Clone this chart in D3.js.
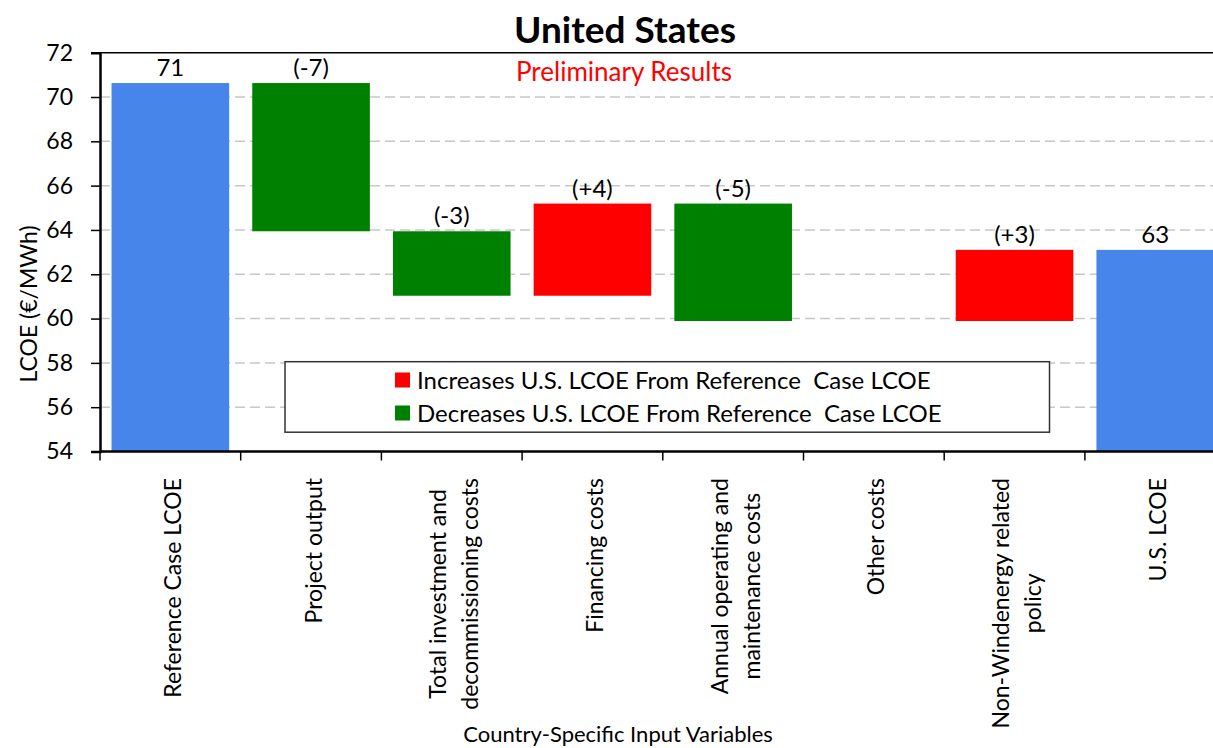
<!DOCTYPE html>
<html>
<head>
<meta charset="utf-8">
<script src="https://cdn.jsdelivr.net/npm/d3@7"></script>
<style>
  body { margin: 0; background: #fff; }
  svg { display: block; font-family: Lato, "Open Sans", sans-serif; }
</style>
</head>
<body>
<svg id="chart" width="1213" height="748"></svg>
<script>
// Waterfall steps from the reference-case LCOE to the U.S. LCOE
const categories = [
  "Reference Case LCOE",
  "Project output",
  "Total investment and\ndecommissioning costs",
  "Financing costs",
  "Annual operating and\nmaintenance costs",
  "Other costs",
  "Non-Windenergy related\npolicy",
  "U.S. LCOE"
];
const stepKinds = ["total", "delta", "delta", "delta", "delta", "delta", "delta", "total"];
const stepValues = [70.63, -6.69, -2.91, 4.16, -5.30, 0, 3.21, 63.10];
const yTicks = [54, 56, 58, 60, 62, 64, 66, 68, 70, 72];
const legendLabels = [
  "Increases U.S. LCOE From Reference  Case LCOE",
  "Decreases U.S. LCOE From Reference  Case LCOE"
];

const colors = { total: "#4785EA", up: "#FF0000", down: "#008000" };

const svg = d3.select("#chart");
const plotLeft = 100, plotTop = 52.7, plotBottom = 451.5;
const step = 140.7;

const x = d3.scaleBand()
  .domain(categories)
  .range([plotLeft, plotLeft + step * categories.length])
  .paddingInner(0.164)
  .paddingOuter(0.082);

const y = d3.scaleLinear().domain([54, 72]).range([plotBottom, plotTop]);

// Build waterfall segments
let running = 0;
const segments = categories.map((c, i) => {
  const v = stepValues[i];
  let lo, hi, color, label;
  if (stepKinds[i] === "total") {
    lo = y.domain()[0]; hi = v; running = v; color = colors.total;
    label = d3.format(".0f")(v);
  } else {
    const start = running; running = start + v;
    lo = Math.min(start, running); hi = Math.max(start, running);
    color = v >= 0 ? colors.up : colors.down;
    label = v === 0 ? "" : "(" + (v > 0 ? "+" : "-") + d3.format(".0f")(Math.abs(v)) + ")";
  }
  return { c, lo, hi, color, label };
});

// Dashed gridlines
svg.append("g")
  .selectAll("line")
  .data(yTicks.filter(t => t > 54 && t < 72))
  .join("line")
  .attr("x1", plotLeft).attr("x2", 1213)
  .attr("y1", d => y(d)).attr("y2", d => y(d))
  .attr("stroke", "#c8c8c8").attr("stroke-width", 1.5)
  .attr("stroke-dasharray", "10,5");

// Top border of plot area
svg.append("line")
  .attr("x1", plotLeft).attr("x2", 1213)
  .attr("y1", y(72)).attr("y2", y(72))
  .attr("stroke", "#000").attr("stroke-width", 1.5);

// Bars
svg.append("g")
  .selectAll("rect")
  .data(segments.filter(s => s.hi > s.lo))
  .join("rect")
  .attr("x", d => x(d.c))
  .attr("width", x.bandwidth())
  .attr("y", d => y(d.hi))
  .attr("height", d => y(d.lo) - y(d.hi))
  .attr("fill", d => d.color);

// Value labels
svg.append("g")
  .selectAll("text")
  .data(segments.filter(s => s.label))
  .join("text")
  .attr("x", d => x(d.c) + x.bandwidth() / 2)
  .attr("y", d => y(d.hi) - 7)
  .attr("text-anchor", "middle")
  .attr("font-size", 24)
  .attr("fill", "#000")
  .text(d => d.label);

// Y axis
const yAxis = d3.axisLeft(y).tickValues(yTicks).tickSize(9).tickPadding(18).tickFormat(d3.format("d"));
const gy = svg.append("g").attr("transform", `translate(${plotLeft},0)`).call(yAxis);
gy.select(".domain").attr("stroke", "#000").attr("stroke-width", 2.5);
gy.selectAll(".tick line").attr("stroke", "#000").attr("stroke-width", 1.5);
gy.selectAll(".tick text").attr("font-size", 23).attr("font-family", "Lato, sans-serif").attr("fill", "#000");

// X axis line and boundary ticks
svg.append("line")
  .attr("x1", plotLeft).attr("x2", 1213)
  .attr("y1", plotBottom).attr("y2", plotBottom)
  .attr("stroke", "#000").attr("stroke-width", 2.5);
svg.append("g")
  .selectAll("line")
  .data(d3.range(categories.length + 1))
  .join("line")
  .attr("x1", i => plotLeft + i * x.step()).attr("x2", i => plotLeft + i * x.step())
  .attr("y1", plotBottom).attr("y2", plotBottom + 9)
  .attr("stroke", "#000").attr("stroke-width", 1.5);

// Rotated category labels, lines centred as a block hanging from the axis
const labelTop = 478, lineGap = 32;
categories.forEach(c => {
  const lines = c.split("\n");
  const cx = x(c) + x.bandwidth() / 2;
  const g = svg.append("g").attr("transform", `translate(${cx},0) rotate(-90)`);
  const texts = lines.map((ln, j) => g.append("text")
    .attr("font-size", 23)
    .attr("fill", "#000")
    .attr("text-anchor", "middle")
    .attr("y", (j - (lines.length - 1) / 2) * lineGap + 10.5)
    .text(ln));
  const maxW = d3.max(texts, t => t.node().getComputedTextLength());
  texts.forEach(t => t.attr("x", -(labelTop + maxW / 2)));
});

// Axis titles
svg.append("text")
  .attr("transform", "translate(37,304) rotate(-90)")
  .attr("text-anchor", "middle")
  .attr("font-size", 23)
  .attr("fill", "#000")
  .text("LCOE (€/MWh)");

svg.append("text")
  .attr("x", 618).attr("y", 742)
  .attr("text-anchor", "middle")
  .attr("font-size", 22)
  .attr("fill", "#000")
  .text("Country-Specific Input Variables");

// Title and subtitle
svg.append("text")
  .attr("x", 625).attr("y", 43)
  .attr("text-anchor", "middle")
  .attr("font-size", 37)
  .attr("font-weight", "bold")
  .attr("fill", "#000")
  .text("United States");

svg.append("text")
  .attr("x", 624).attr("y", 81)
  .attr("text-anchor", "middle")
  .attr("font-size", 26)
  .attr("fill", "#FF0000")
  .text("Preliminary Results");

// Legend
const legend = svg.append("g");
legend.append("rect")
  .attr("x", 285).attr("y", 361.7)
  .attr("width", 764.5).attr("height", 70.5)
  .attr("fill", "#fff").attr("stroke", "#333").attr("stroke-width", 1.5);
const legendColors = [colors.up, colors.down];
legendLabels.forEach((lab, i) => {
  const cy = 380 + i * 33;
  legend.append("rect")
    .attr("x", 395).attr("y", cy - 7.5)
    .attr("width", 15).attr("height", 15)
    .attr("fill", legendColors[i]);
  legend.append("text")
    .attr("x", 417).attr("y", cy + 8.5)
    .attr("font-size", 24)
    .attr("fill", "#000")
    .style("white-space", "pre")
    .text(lab);
});
</script>
</body>
</html>
